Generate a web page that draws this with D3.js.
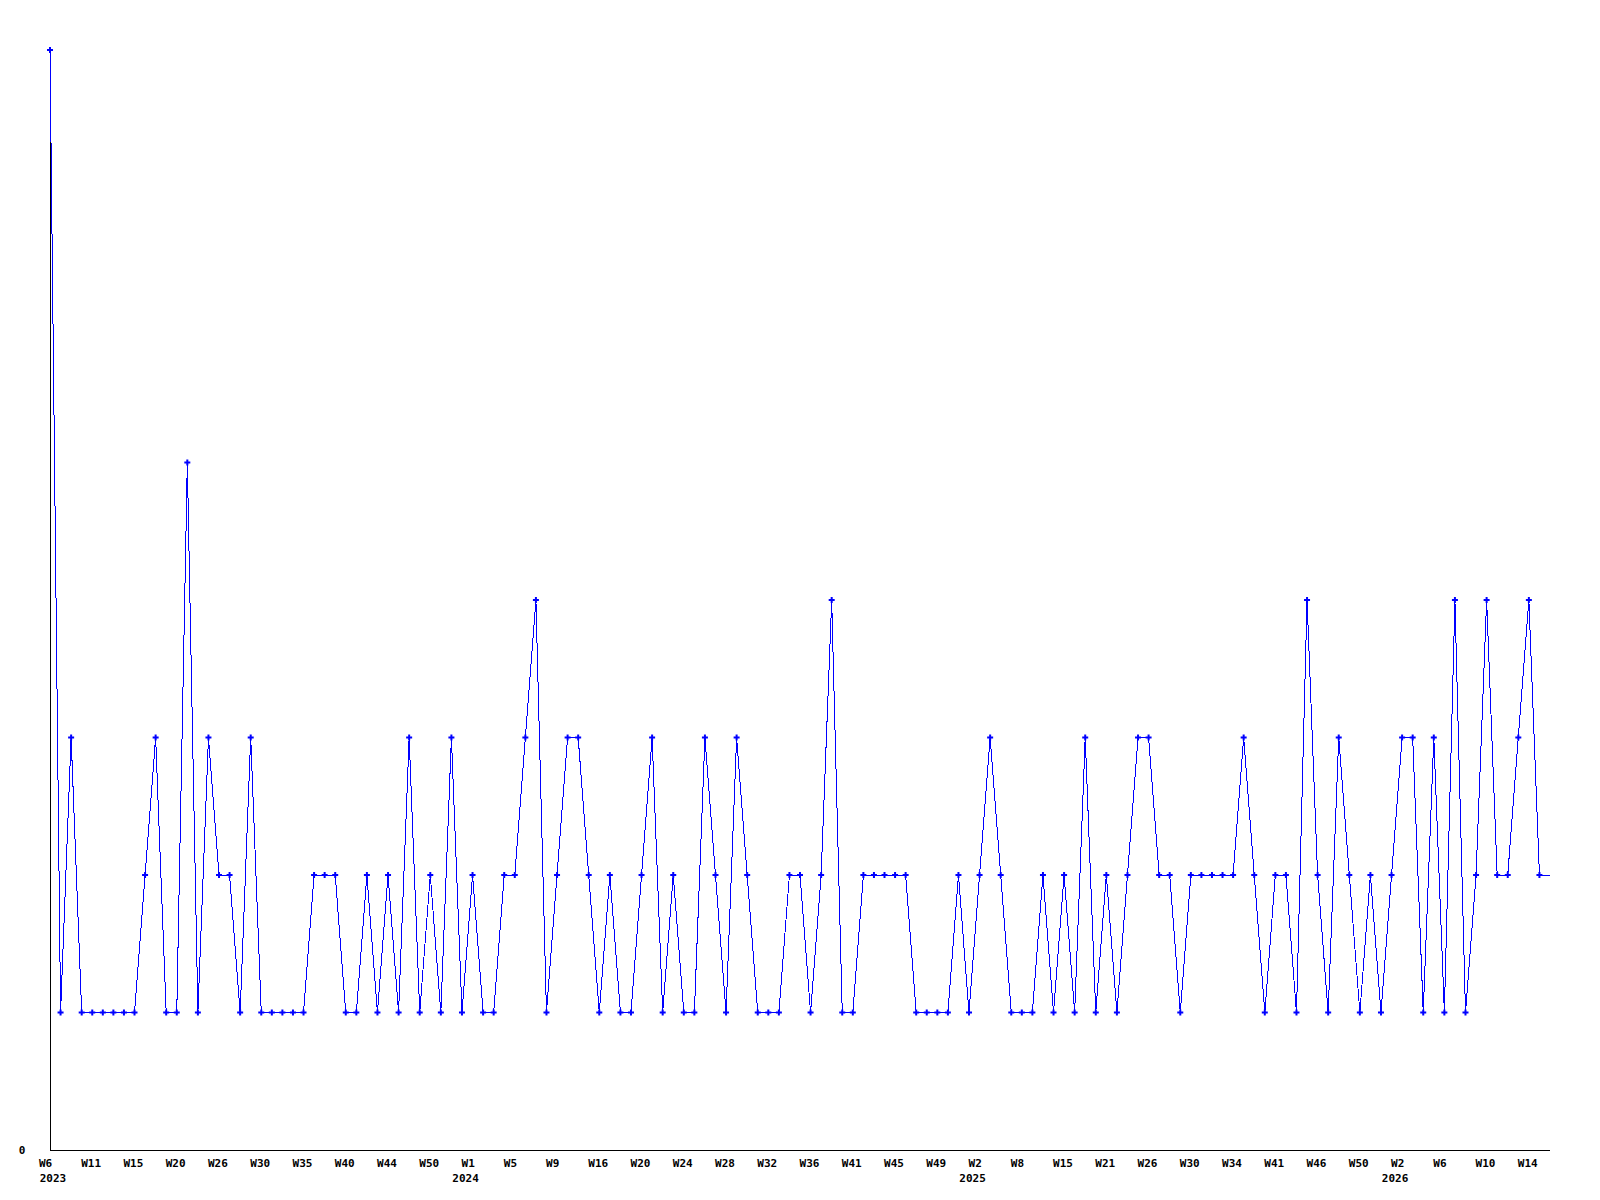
<!DOCTYPE html>
<html>
<head>
<meta charset="utf-8">
<script src="https://cdn.jsdelivr.net/npm/d3@7"></script>
<style>
  body { margin: 0; background: #fff; }
  text { font-family: "DejaVu Sans Mono", monospace; font-weight: bold; font-size: 11px; fill: #000; }
</style>
</head>
<body>
<div id="chart"></div>
<script>
// Chart size
const width = 1600;
const height = 1200;

// Weekly counts, one per week that has data
const values = [
  8, 1, 3, 1, 1, 1, 1, 1, 1, 2, 3, 1, 1, 5, 1, 3, 2, 2, 1, 3,
  1, 1, 1, 1, 1, 2, 2, 2, 1, 1, 2, 1, 2, 1, 3, 1, 2, 1, 3, 1,
  2, 1, 1, 2, 2, 3, 4, 1, 2, 3, 3, 2, 1, 2, 1, 1, 2, 3, 1, 2,
  1, 1, 3, 2, 1, 3, 2, 1, 1, 1, 2, 2, 1, 2, 4, 1, 1, 2, 2, 2,
  2, 2, 1, 1, 1, 1, 2, 1, 2, 3, 2, 1, 1, 1, 2, 1, 2, 1, 3, 1,
  2, 1, 2, 3, 3, 2, 2, 1, 2, 2, 2, 2, 2, 3, 2, 1, 2, 2, 1, 4,
  2, 1, 3, 2, 1, 2, 1, 2, 3, 3, 1, 3, 1, 4, 1, 2, 4, 2, 2, 3,
  4, 2
];

// Week label shown under every 4th point
const weekLabels = [
  "W6", "W11", "W15", "W20", "W26", "W30", "W35", "W40", "W44", "W50",
  "W1", "W5", "W9", "W16", "W20", "W24", "W28", "W32", "W36", "W41",
  "W45", "W49", "W2", "W8", "W15", "W21", "W26", "W30", "W34", "W41",
  "W46", "W50", "W2", "W6", "W10", "W14"
];
const labelEvery = 4;

// Year labels and the point index they sit under
const years = ["2023", "2024", "2025", "2026"];
const yearIndex = [0, 40, 88, 128];

const yTicks = [0];

const margin = { left: 50, right: 50, top: 50, bottom: 50 };
const axisTop = 99;

const svg = d3.select("#chart").append("svg")
    .attr("width", width)
    .attr("height", height);

// one extra step at the right end, the line runs flat to it
const x = d3.scaleLinear()
    .domain([0, values.length])
    .range([margin.left, width - margin.right]);

const y = d3.scaleLinear()
    .domain([0, d3.max(values)])
    .range([height - margin.bottom, margin.top]);

// Axes
svg.append("line")
    .attr("x1", x(0)).attr("x2", x(values.length))
    .attr("y1", y(0) + 0.5).attr("y2", y(0) + 0.5)
    .attr("stroke", "#000")
    .attr("shape-rendering", "crispEdges");

svg.append("line")
    .attr("x1", x(0) + 0.5).attr("x2", x(0) + 0.5)
    .attr("y1", y(0)).attr("y2", axisTop)
    .attr("stroke", "#000")
    .attr("shape-rendering", "crispEdges");

svg.selectAll(".ytick")
    .data(yTicks)
    .enter().append("text")
    .attr("class", "ytick")
    .attr("x", 22)
    .attr("y", d => y(d) + 4)
    .attr("text-anchor", "middle")
    .text(d => d);

// Week labels
svg.selectAll(".week")
    .data(weekLabels)
    .enter().append("text")
    .attr("class", "week")
    .attr("x", (d, i) => x(i * labelEvery) - 11)
    .attr("y", 1167)
    .text(d => d);

// Year labels, centred under the week label, kept inside the left edge
svg.selectAll(".year")
    .data(years)
    .enter().append("text")
    .attr("class", "year")
    .attr("y", 1182)
    .attr("text-anchor", "middle")
    .attr("x", (d, i) => Math.max(x(yearIndex[i]) - 7, 40 + 13))
    .text(d => d);

// Line
const linePoints = values.map((v, i) => [i, v]);
linePoints.push([values.length, values[values.length - 1]]);

const line = d3.line()
    .x(d => x(d[0]))
    .y(d => y(d[1]));

svg.append("path")
    .datum(linePoints)
    .attr("fill", "none")
    .attr("stroke", "#0000ff")
    .attr("stroke-width", 1)
    .attr("shape-rendering", "crispEdges")
    .attr("d", line);

// Point markers
svg.selectAll(".pt")
    .data(values)
    .enter().append("path")
    .attr("class", "pt")
    .attr("transform", (d, i) => `translate(${x(i)},${y(d)})`)
    .attr("fill", "#0000ff")
    .attr("d", d3.symbol(d3.symbolCross).size(20));
</script>
</body>
</html>
